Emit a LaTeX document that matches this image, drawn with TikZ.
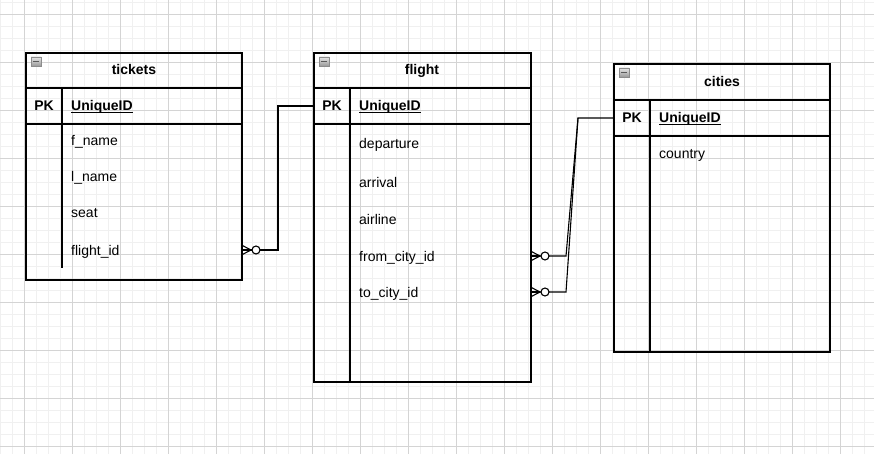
\documentclass[tikz,border=0pt]{standalone}
\usepackage{fontspec}
\setmainfont{Liberation Sans}
\begin{document}
\begin{tikzpicture}[x=1pt,y=-1pt,
  minorgrid/.style={draw=black!6,line width=0.8pt},
  majorgrid/.style={draw=black!17,line width=0.8pt},
  tablebox/.style={draw=black,line width=1.3pt,inner sep=0pt,outer sep=0pt,anchor=north west},
  sep/.style={draw=black,line width=1.3pt},
  rowtext/.style={font=\fontsize{14pt}{16pt}\selectfont,inner sep=0pt,anchor=west,text height=10pt,text depth=0pt},
  pktext/.style={rowtext,font=\fontsize{14pt}{16pt}\selectfont\bfseries,anchor=center},
  keytext/.style={rowtext,font=\fontsize{14pt}{16pt}\selectfont\bfseries},
  title/.style={pktext},
  uline/.style={draw=black,line width=1pt},
  conn/.style={draw=black,line width=1.1pt},
  crowzm/.pic={
    \draw[line width=1.1pt] (0,-4.7) -- (9,0) -- (0,4.7);
    \draw[line width=1.1pt] (0,0) -- (9,0);
    \draw[line width=1.1pt,fill=white] (14,0) circle[radius=4];
  },
  icon/.pic={
    \shade[top color=black!10,bottom color=black!40,draw=black!45,line width=0.7pt] (0,0) rectangle (10,9);
    \draw[black!65,line width=1.6pt] (2,4.5) -- (8,4.5);
  }
]
\useasboundingbox (0,0) rectangle (874,454);
\fill[white] (0,0) rectangle (874,454);
% grid
\foreach \gx in {0,12,...,873} \draw[minorgrid] (\gx,0) -- (\gx,454);
\foreach \gy in {2,14,...,453} \draw[minorgrid] (0,\gy) -- (874,\gy);
\foreach \gx in {24,72,...,873} \draw[majorgrid] (\gx,0) -- (\gx,454);
\foreach \gy in {14,62,...,453} \draw[majorgrid] (0,\gy) -- (874,\gy);

% ---------- tickets ----------
\node[tablebox,minimum width=216pt,minimum height=227pt] (tickets) at (26,53) {};
\draw[sep] (26,88) -- (242,88);
\draw[sep] (26,124) -- (242,124);
\draw[sep] (62,88) -- (62,268);
\pic at (31,57) {icon};
\node[title] (t-title) at (134,69.5) {tickets};
\node[pktext] (t-pklab) at (44,105.5) {PK};
\node[keytext] (t-pk) at (71,105.5) {UniqueID};
\draw[uline] ([yshift=-1.6pt]t-pk.south west) -- ([yshift=-1.6pt]t-pk.south east);
\node[rowtext] (t-fname) at (71,141) {f\_name};
\node[rowtext] (t-lname) at (71,177) {l\_name};
\node[rowtext] (t-seat) at (71,213) {seat};
\node[rowtext] (t-fid) at (71,250) {flight\_id};

% ---------- flight ----------
\node[tablebox,minimum width=217pt,minimum height=329pt] (flight) at (314,53) {};
\draw[sep] (314,88) -- (531,88);
\draw[sep] (314,124) -- (531,124);
\draw[sep] (350,88) -- (350,382);
\pic at (319,57) {icon};
\node[title] (f-title) at (422,69.5) {flight};
\node[pktext] (f-pklab) at (332,106) {PK};
\node[keytext] (f-pk) at (359,106) {UniqueID};
\draw[uline] ([yshift=-1.6pt]f-pk.south west) -- ([yshift=-1.6pt]f-pk.south east);
\node[rowtext] (f-dep) at (359,143.5) {departure};
\node[rowtext] (f-arr) at (359,182.5) {arrival};
\node[rowtext] (f-air) at (359,219) {airline};
\node[rowtext] (f-from) at (359,256) {from\_city\_id};
\node[rowtext] (f-to) at (359,292) {to\_city\_id};

% ---------- cities ----------
\node[tablebox,minimum width=216pt,minimum height=288pt] (cities) at (614,64) {};
\draw[sep] (614,100) -- (830,100);
\draw[sep] (614,136) -- (830,136);
\draw[sep] (650,100) -- (650,352);
\pic at (619,68) {icon};
\node[title] (c-title) at (722,81.5) {cities};
\node[pktext] (c-pklab) at (632,118) {PK};
\node[keytext] (c-pk) at (659,118) {UniqueID};
\draw[uline] ([yshift=-1.6pt]c-pk.south west) -- ([yshift=-1.6pt]c-pk.south east);
\node[rowtext] (c-country) at (659,153.5) {country};

% ---------- connectors ----------
\coordinate (tfidout) at (tickets.east |- t-fid.west);
\coordinate (fpkin) at (flight.west |- f-pk.west);
\draw[conn] (tfidout) -- ++(36,0) |- (fpkin);
\pic at (tfidout) {crowzm};

\coordinate (ffromout) at (flight.east |- f-from.west);
\coordinate (ftoout) at (flight.east |- f-to.west);
\coordinate (cpkin) at (cities.west |- c-pk.west);
\draw[conn] (ffromout) -- ++(35,0) -- ([xshift=-36pt]cpkin) -- (cpkin);
\draw[conn] (ftoout) -- ++(35,0) -- ([xshift=-36pt]cpkin);
\pic at (ffromout) {crowzm};
\pic at (ftoout) {crowzm};
\end{tikzpicture}
\end{document}
